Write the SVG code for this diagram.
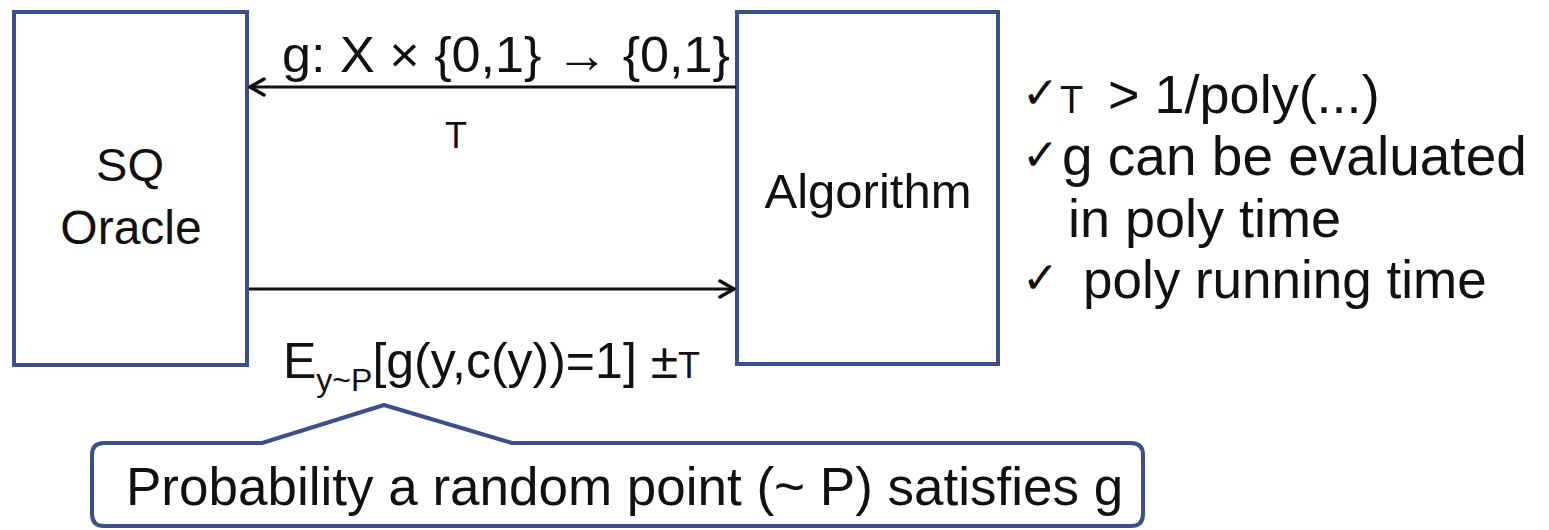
<svg xmlns="http://www.w3.org/2000/svg" width="1549" height="530" viewBox="0 0 1549 530">
<defs>
<style>
.box{fill:#fff;stroke:#3d4f88;stroke-width:4}
.t{font-family:"Liberation Sans","DejaVu Sans",sans-serif;fill:#111}
.ck{font-family:"DejaVu Sans",sans-serif;font-weight:bold;fill:#111}
.conn{stroke:#111;stroke-width:3;fill:none}
</style>
<marker id="arr" viewBox="0 0 20 20" refX="18" refY="10" markerWidth="20" markerHeight="20" markerUnits="userSpaceOnUse" orient="auto">
<path d="M4,2 L18,10 L4,18" fill="none" stroke="#111" stroke-width="3.5" stroke-linecap="round" stroke-linejoin="round"/>
</marker>
</defs>
<rect width="1549" height="530" fill="#fff"/>
<g id="sq-oracle">
<rect class="box" x="14" y="12" width="233" height="353"/>
<text class="t" x="130" y="181" font-size="47" text-anchor="middle">SQ</text>
<text class="t" x="131" y="244" font-size="48" text-anchor="middle">Oracle</text>
</g>
<g id="algorithm">
<rect class="box" x="737" y="12" width="261" height="352"/>
<text class="t" x="868" y="208" font-size="49" text-anchor="middle">Algorithm</text>
</g>
<g id="connectors">
<line class="conn" x1="736" y1="87" x2="250" y2="87" marker-end="url(#arr)"/>
<line class="conn" x1="249" y1="289" x2="734" y2="289" marker-end="url(#arr)"/>
</g>
<g id="labels">
<text class="t" x="282" y="72" font-size="50" textLength="448" lengthAdjust="spacingAndGlyphs">g:  X × {0,1} → {0,1}</text>
<text class="t" x="456" y="148" font-size="36" text-anchor="middle">T</text>
<text class="t" x="283" y="378" font-size="50">E<tspan font-size="32" dy="13">y~P</tspan><tspan dy="-13">[g(y,c(y))=1] ±</tspan><tspan font-size="36">T</tspan></text>
</g>
<g id="conditions">
<text class="ck" x="1022" y="108" font-size="44">✓</text>
<text class="t" x="1060" y="113" font-size="38">T</text>
<text class="t" x="1108" y="113" font-size="54">&gt; 1/poly(...)</text>
<text class="ck" x="1022" y="170" font-size="44">✓</text>
<text class="t" x="1062" y="175" font-size="55">g can be evaluated</text>
<text class="t" x="1068" y="237" font-size="54">in poly time</text>
<text class="ck" x="1022" y="293" font-size="44">✓</text>
<text class="t" x="1083" y="298" font-size="53">poly running time</text>
</g>
<g id="callout">
<path d="M92,514 L92,455 Q92,443 104,443 L262,443 L384,405 L512,443 L1131,443 Q1143,443 1143,455 L1143,514 Q1143,526 1131,526 L104,526 Q92,526 92,514 Z" fill="#fff" stroke="#3d4f88" stroke-width="4" stroke-linejoin="round"/>
<text class="t" x="126" y="505" font-size="53">Probability a random point (~ P) satisfies g</text>
</g>
</svg>
